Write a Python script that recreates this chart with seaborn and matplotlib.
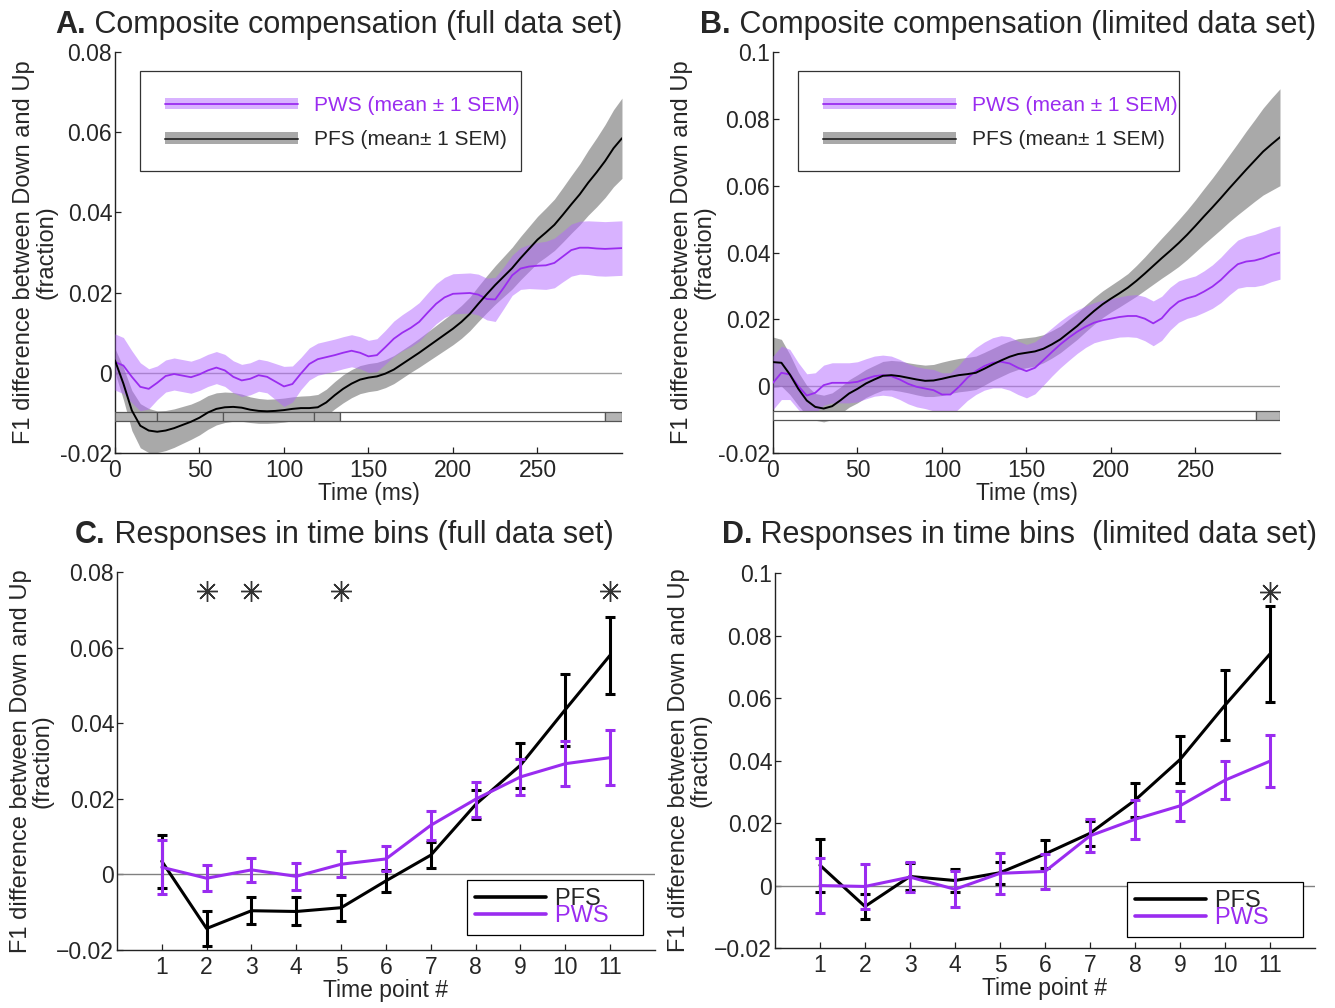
import matplotlib
matplotlib.use("Agg")
import matplotlib.pyplot as plt
import seaborn as sns
from matplotlib.patches import Patch, Rectangle
from matplotlib.lines import Line2D

# ---- data ----
time_ms = list(range(0, 301, 5))

pws_full_mean = [0.0027, 0.0018, -0.0010, -0.0035, -0.0040, -0.0025, -0.0008, -0.0003, -0.0007, -0.0011,
                 -0.0004, 0.0006, 0.0013, 0.0006, -0.0010, -0.0019, -0.0015, -0.0006, -0.0010, -0.0022,
                 -0.0034, -0.0028, -0.0002, 0.0022, 0.0034, 0.0039, 0.0044, 0.0050, 0.0055, 0.0050,
                 0.0041, 0.0044, 0.0064, 0.0085, 0.0100, 0.0112, 0.0127, 0.0150, 0.0172, 0.0188,
                 0.0197, 0.0198, 0.0199, 0.0195, 0.0184, 0.0183, 0.0212, 0.0243, 0.0260, 0.0265,
                 0.0267, 0.0268, 0.0274, 0.0290, 0.0306, 0.0312, 0.0312, 0.0310, 0.0309, 0.0310,
                 0.0311]
pws_full_sem = [0.0070, 0.0070, 0.0065, 0.0060, 0.0050, 0.0042, 0.0040, 0.0040, 0.0040, 0.0040,
                0.0040, 0.0040, 0.0040, 0.0040, 0.0040, 0.0040, 0.0040, 0.0040, 0.0040, 0.0045,
                0.0050, 0.0045, 0.0040, 0.0040, 0.0040, 0.0040, 0.0040, 0.0040, 0.0040, 0.0040,
                0.0040, 0.0041, 0.0042, 0.0044, 0.0045, 0.0047, 0.0048, 0.0049, 0.0050, 0.0050,
                0.0050, 0.0050, 0.0050, 0.0051, 0.0052, 0.0055, 0.0052, 0.0050, 0.0052, 0.0055,
                0.0058, 0.0060, 0.0062, 0.0063, 0.0065, 0.0066, 0.0067, 0.0068, 0.0068, 0.0068,
                0.0068]
pfs_full_mean = [0.0031, -0.0027, -0.0094, -0.0132, -0.0144, -0.0147, -0.0144, -0.0138, -0.0130, -0.0122,
                 -0.0112, -0.0099, -0.0090, -0.0086, -0.0085, -0.0087, -0.0092, -0.0095, -0.0096, -0.0095,
                 -0.0093, -0.0090, -0.0088, -0.0088, -0.0086, -0.0074, -0.0056, -0.0040, -0.0027, -0.0017,
                 -0.0012, -0.0009, -0.0002, 0.0008, 0.0022, 0.0036, 0.0050, 0.0065, 0.0080, 0.0095,
                 0.0110, 0.0127, 0.0147, 0.0172, 0.0196, 0.0219, 0.0240, 0.0261, 0.0286, 0.0309,
                 0.0332, 0.0350, 0.0369, 0.0394, 0.0420, 0.0445, 0.0474, 0.0500, 0.0528, 0.0560,
                 0.0585]
pfs_full_sem = [0.0030, 0.0040, 0.0050, 0.0055, 0.0055, 0.0052, 0.0050, 0.0048, 0.0046, 0.0044,
                0.0043, 0.0042, 0.0040, 0.0038, 0.0036, 0.0034, 0.0032, 0.0031, 0.0030, 0.0030,
                0.0030, 0.0030, 0.0030, 0.0031, 0.0032, 0.0033, 0.0034, 0.0035, 0.0035, 0.0035,
                0.0035, 0.0035, 0.0035, 0.0035, 0.0035, 0.0035, 0.0036, 0.0037, 0.0038, 0.0039,
                0.0040, 0.0041, 0.0042, 0.0044, 0.0046, 0.0048, 0.0050, 0.0052, 0.0054, 0.0056,
                0.0058, 0.0061, 0.0064, 0.0068, 0.0072, 0.0076, 0.0081, 0.0086, 0.0091, 0.0096,
                0.0100]

pws_lim_mean = [0.0010, 0.0040, 0.0035, 0.0000, -0.0028, -0.0020, 0.0003, 0.0010, 0.0010, 0.0010,
                0.0013, 0.0022, 0.0030, 0.0033, 0.0030, 0.0020, 0.0007, -0.0002, -0.0007, -0.0012,
                -0.0025, -0.0025, -0.0002, 0.0025, 0.0045, 0.0060, 0.0070, 0.0073, 0.0068, 0.0055,
                0.0045, 0.0055, 0.0078, 0.0102, 0.0125, 0.0145, 0.0163, 0.0178, 0.0190, 0.0197,
                0.0202, 0.0207, 0.0210, 0.0210, 0.0202, 0.0188, 0.0203, 0.0232, 0.0253, 0.0263,
                0.0270, 0.0283, 0.0298, 0.0318, 0.0343, 0.0365, 0.0373, 0.0376, 0.0383, 0.0393,
                0.0400]
pws_lim_sem = [0.0080, 0.0080, 0.0075, 0.0070, 0.0065, 0.0060, 0.0060, 0.0060, 0.0060, 0.0060,
               0.0060, 0.0060, 0.0060, 0.0060, 0.0060, 0.0060, 0.0060, 0.0060, 0.0060, 0.0062,
               0.0065, 0.0065, 0.0065, 0.0068, 0.0070, 0.0072, 0.0075, 0.0078, 0.0080, 0.0080,
               0.0080, 0.0078, 0.0075, 0.0072, 0.0070, 0.0068, 0.0065, 0.0062, 0.0060, 0.0060,
               0.0060, 0.0060, 0.0062, 0.0064, 0.0066, 0.0067, 0.0066, 0.0064, 0.0062, 0.0060,
               0.0060, 0.0062, 0.0065, 0.0068, 0.0070, 0.0072, 0.0075, 0.0078, 0.0080, 0.0080,
               0.0080]
pfs_lim_mean = [0.0072, 0.0070, 0.0035, -0.0008, -0.0043, -0.0062, -0.0067, -0.0060, -0.0042, -0.0022,
                -0.0008, 0.0008, 0.0020, 0.0031, 0.0033, 0.0030, 0.0025, 0.0020, 0.0016, 0.0017,
                0.0022, 0.0028, 0.0033, 0.0036, 0.0040, 0.0052, 0.0065, 0.0077, 0.0088, 0.0096,
                0.0100, 0.0104, 0.0112, 0.0125, 0.0140, 0.0160, 0.0180, 0.0203, 0.0225, 0.0245,
                0.0262, 0.0278, 0.0295, 0.0315, 0.0337, 0.0360, 0.0383, 0.0405, 0.0428, 0.0453,
                0.0480, 0.0508, 0.0535, 0.0563, 0.0592, 0.0620, 0.0648, 0.0675, 0.0702, 0.0724,
                0.0745]
pfs_lim_sem = [0.0075, 0.0070, 0.0060, 0.0050, 0.0045, 0.0040, 0.0040, 0.0040, 0.0040, 0.0041,
               0.0042, 0.0042, 0.0042, 0.0043, 0.0044, 0.0045, 0.0045, 0.0046, 0.0047, 0.0048,
               0.0050, 0.0050, 0.0050, 0.0050, 0.0050, 0.0049, 0.0048, 0.0048, 0.0047, 0.0046,
               0.0045, 0.0044, 0.0042, 0.0041, 0.0040, 0.0040, 0.0040, 0.0040, 0.0040, 0.0040,
               0.0040, 0.0041, 0.0042, 0.0046, 0.0050, 0.0055, 0.0060, 0.0065, 0.0070, 0.0074,
               0.0078, 0.0083, 0.0088, 0.0094, 0.0100, 0.0107, 0.0115, 0.0122, 0.0130, 0.0138,
               0.0145]

# significance strips under the curves (segment edges in ms, filled or not)
strip_full_edges = [0, 25, 64, 118, 133, 290, 300]
strip_full_filled = [True, True, True, True, False, True]
strip_full_y = (-0.0120, -0.0097)
strip_lim_edges = [0, 286, 300]
strip_lim_filled = [False, True]
strip_lim_y = (-0.0100, -0.0075)

time_points = list(range(1, 12))
pfs_bin_full_mean = [0.0035, -0.0143, -0.0096, -0.0098, -0.0088, -0.0017, 0.0051, 0.0185, 0.0289, 0.0436, 0.0580]
pfs_bin_full_sem = [0.0070, 0.0047, 0.0035, 0.0037, 0.0034, 0.0030, 0.0034, 0.0039, 0.0059, 0.0095, 0.0102]
pws_bin_full_mean = [0.0019, -0.0010, 0.0012, -0.0005, 0.0027, 0.0041, 0.0130, 0.0199, 0.0258, 0.0293, 0.0309]
pws_bin_full_sem = [0.0072, 0.0035, 0.0032, 0.0036, 0.0035, 0.0033, 0.0039, 0.0046, 0.0047, 0.0060, 0.0072]
stars_full_x = [2, 3, 5, 11]
stars_full_y = [0.075, 0.075, 0.075, 0.075]

pfs_bin_lim_mean = [0.0065, -0.0067, 0.0029, 0.0016, 0.0041, 0.0101, 0.0167, 0.0273, 0.0403, 0.0577, 0.0741]
pfs_bin_lim_sem = [0.0085, 0.0040, 0.0043, 0.0038, 0.0035, 0.0044, 0.0040, 0.0055, 0.0075, 0.0112, 0.0155]
pws_bin_lim_mean = [0.0000, -0.0003, 0.0027, -0.0012, 0.0039, 0.0045, 0.0159, 0.0212, 0.0255, 0.0337, 0.0398]
pws_bin_lim_sem = [0.0087, 0.0071, 0.0049, 0.0057, 0.0066, 0.0056, 0.0053, 0.0062, 0.0049, 0.0061, 0.0084]
stars_lim_x = [11]
stars_lim_y = [0.094]

PURPLE = "#9a2cf0"
PURPLE_BAND = "#b266ff"
GREY_BAND = "#555555"
YLABEL = "F1 difference between Down and Up\n(fraction)"

sns.set_style("ticks")
plt.rcParams["font.family"] = ["Liberation Sans", "DejaVu Sans"]
plt.rcParams["xtick.direction"] = "in"
plt.rcParams["ytick.direction"] = "in"


def style_axes(ax, y_ticks, y_labels, x_ticks, x_labels, xlim, ylim, xlabel):
    """
    MATLAB-like axes: only left and bottom spines, inward ticks
    """
    sns.despine(ax=ax)
    for side in ["left", "bottom"]:
        ax.spines[side].set_color("#222222")
        ax.spines[side].set_linewidth(1.0)
    ax.set_xlim(*xlim)
    ax.set_ylim(*ylim)
    ax.set_yticks(y_ticks)
    ax.set_yticklabels(y_labels)
    ax.set_xticks(x_ticks)
    ax.set_xticklabels(x_labels)
    ax.tick_params(axis="both", labelsize=16.5, length=4, width=0.9, color="#222222")
    ax.tick_params(axis="y", pad=2)
    ax.tick_params(axis="x", pad=4)
    ax.set_xlabel(xlabel, fontsize=16.5, labelpad=0)
    ax.set_ylabel(YLABEL, fontsize=17, labelpad=2, linespacing=1.0)


def composite_panel(ax, pws_mean, pws_sem, pfs_mean, pfs_sem, edges, filled, strip_y, y_ticks, y_labels, ylim):
    """
    mean +- 1 SEM bands of both groups over time
    """
    ax.axhline(0, color="#a0a0a0", linewidth=1.0, zorder=1)
    ax.fill_between(time_ms, [m - s for m, s in zip(pfs_mean, pfs_sem)],
                    [m + s for m, s in zip(pfs_mean, pfs_sem)],
                    color=GREY_BAND, alpha=0.5, linewidth=0, zorder=2)
    ax.fill_between(time_ms, [m - s for m, s in zip(pws_mean, pws_sem)],
                    [m + s for m, s in zip(pws_mean, pws_sem)],
                    color=PURPLE_BAND, alpha=0.5, linewidth=0, zorder=3)

    segments = [(a, b - a) for a, b in zip(edges[:-1], edges[1:])]
    colors = ["#b4b4b4" if f else "white" for f in filled]
    ax.broken_barh(segments, (strip_y[0], strip_y[1] - strip_y[0]), facecolors=colors,
                   edgecolor="#555555", linewidth=0.9, zorder=3.5)

    sns.lineplot(x=time_ms, y=pws_mean, ax=ax, color=PURPLE, linewidth=1.3, legend=False, zorder=4)
    sns.lineplot(x=time_ms, y=pfs_mean, ax=ax, color="black", linewidth=1.4, legend=False, zorder=5)

    style_axes(ax, y_ticks, y_labels, [0, 50, 100, 150, 200, 250],
               ["0", "50", "100", "150", "200", "250"], (0, 300), ylim, "Time (ms)")

    # legend box drawn by hand so its padding matches the original
    ax.add_patch(Rectangle((0.049, 0.703), 0.752, 0.249, transform=ax.transAxes,
                           facecolor="white", edgecolor="#333333", linewidth=0.9, zorder=7))
    handles = [
        (Patch(facecolor=PURPLE_BAND, alpha=0.5, linewidth=0), Line2D([], [], color=PURPLE, linewidth=1.3)),
        (Patch(facecolor=GREY_BAND, alpha=0.5, linewidth=0), Line2D([], [], color="#333333", linewidth=1.4)),
    ]
    leg = ax.legend(handles, ["PWS (mean \u00b1 1 SEM)", "PFS (mean\u00b1 1 SEM)"],
                    loc="upper left", bbox_to_anchor=(0.049, 0.953), borderaxespad=0,
                    fontsize=15, handlelength=6.4, handleheight=0.5, handletextpad=0.75,
                    labelspacing=0.75, borderpad=1.2, frameon=False)
    leg.set_zorder(8)
    leg.get_texts()[0].set_color(PURPLE)


def bins_panel(ax, pfs_mean, pfs_sem, pws_mean, pws_sem, stars_x, stars_y, y_ticks, y_labels, ylim, anchor):
    """
    responses per time bin with SEM error bars
    """
    ax.axhline(0, color="#808080", linewidth=1.0, zorder=1)
    sns.lineplot(x=time_points, y=pfs_mean, ax=ax, color="black", linewidth=2.2, legend=False, zorder=3)
    ax.errorbar(time_points, pfs_mean, yerr=pfs_sem, fmt="none", ecolor="black",
                elinewidth=2.2, capsize=3.5, capthick=2.2, zorder=3)
    sns.lineplot(x=time_points, y=pws_mean, ax=ax, color=PURPLE, linewidth=2.2, legend=False, zorder=4)
    ax.errorbar(time_points, pws_mean, yerr=pws_sem, fmt="none", ecolor=PURPLE,
                elinewidth=2.2, capsize=3.5, capthick=2.2, zorder=4)
    ax.plot(stars_x, stars_y, linestyle="none", marker=(8, 2, 0), markersize=15,
            markeredgecolor="#333333", markeredgewidth=1.0, zorder=5)

    style_axes(ax, y_ticks, y_labels, time_points, [str(t) for t in time_points],
               (0, 12), ylim, "Time point #")

    handles = [Line2D([], [], color="black", linewidth=2.6), Line2D([], [], color=PURPLE, linewidth=2.6)]
    leg = ax.legend(handles, ["PFS    ", "PWS    "], loc="lower right", bbox_to_anchor=anchor,
                    borderaxespad=0, fontsize=17, handlelength=3.0, handletextpad=0.4,
                    labelspacing=-0.2, borderpad=0.33, fancybox=False, framealpha=1)
    leg.get_frame().set_edgecolor("black")
    leg.get_frame().set_linewidth(0.9)
    leg.get_texts()[1].set_color(PURPLE)


fig = plt.figure(figsize=(13.35, 10.08), dpi=100)
ax_a = fig.add_axes([0.0861, 0.5506, 0.3798, 0.3978])
ax_b = fig.add_axes([0.5790, 0.5506, 0.3798, 0.3978])
ax_c = fig.add_axes([0.0876, 0.0575, 0.4030, 0.3750])
ax_d = fig.add_axes([0.5805, 0.0595, 0.4045, 0.3720])

composite_panel(ax_a, pws_full_mean, pws_full_sem, pfs_full_mean, pfs_full_sem,
                strip_full_edges, strip_full_filled, strip_full_y,
                [-0.02, 0, 0.02, 0.04, 0.06, 0.08], ["-0.02", "0", "0.02", "0.04", "0.06", "0.08"],
                (-0.02, 0.08))
composite_panel(ax_b, pws_lim_mean, pws_lim_sem, pfs_lim_mean, pfs_lim_sem,
                strip_lim_edges, strip_lim_filled, strip_lim_y,
                [-0.02, 0, 0.02, 0.04, 0.06, 0.08, 0.1],
                ["-0.02", "0", "0.02", "0.04", "0.06", "0.08", "0.1"], (-0.02, 0.1))
bins_panel(ax_c, pfs_bin_full_mean, pfs_bin_full_sem, pws_bin_full_mean, pws_bin_full_sem,
           stars_full_x, stars_full_y, [-0.02, 0, 0.02, 0.04, 0.06, 0.08],
           ["\u22120.02", "0", "0.02", "0.04", "0.06", "0.08"], (-0.02, 0.08), (0.978, 0.04))
bins_panel(ax_d, pfs_bin_lim_mean, pfs_bin_lim_sem, pws_bin_lim_mean, pws_bin_lim_sem,
           stars_lim_x, stars_lim_y, [-0.02, 0, 0.02, 0.04, 0.06, 0.08, 0.1],
           ["\u22120.02", "0", "0.02", "0.04", "0.06", "0.08", "0.1"], (-0.02, 0.1), (0.978, 0.029))

for ax, x, y, letter, text in [
    (ax_a, 0.0412, 0.9673, "A.", " Composite compensation (full data set)"),
    (ax_b, 0.5243, 0.9673, "B.", " Composite compensation (limited data set)"),
    (ax_c, 0.0562, 0.4613, "C.", " Responses in time bins (full data set)"),
    (ax_d, 0.5408, 0.4613, "D.", " Responses in time bins  (limited data set)"),
]:
    t1 = fig.text(x, y, letter, fontsize=22, fontweight="bold", ha="left", va="baseline")
    ax.annotate(text, xy=(1, 0), xycoords=t1, fontsize=22, ha="left", va="bottom",
                annotation_clip=False)

fig.savefig("out.png", dpi=100)
